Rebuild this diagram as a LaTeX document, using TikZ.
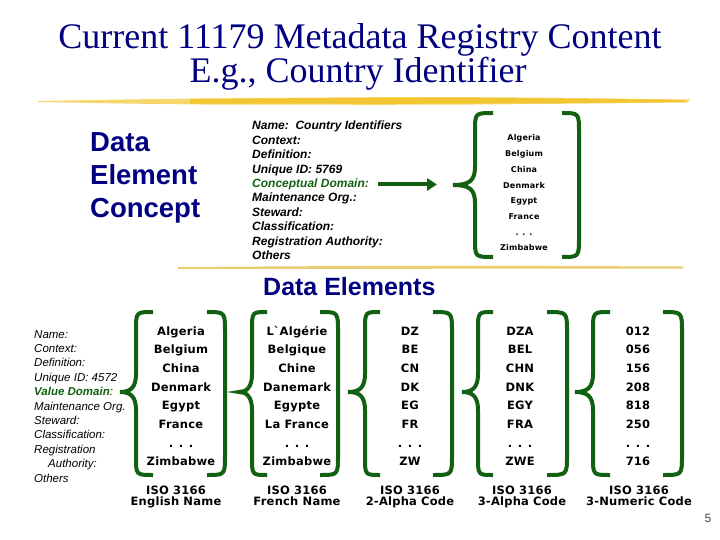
\documentclass[tikz,border=0pt]{standalone}
\usepackage{fontspec}
\setmainfont{Liberation Sans}
\newfontfamily\ttlfont{Liberation Serif}
\newfontfamily\valfont[LetterSpace=2]{DejaVu Sans}
\usetikzlibrary{arrows.meta}
\definecolor{navy}{RGB}{0,0,128}
\definecolor{brgreen}{RGB}{18,96,18}
\definecolor{hilite}{RGB}{242,198,48}
\definecolor{hilitel}{RGB}{232,206,112}
\tikzset{
  ttl/.style={font=\ttlfont\fontsize{36}{36}\selectfont, text=navy, anchor=base, inner sep=0pt},
  big/.style={font=\bfseries\fontsize{27.5}{27.5}\selectfont, text=navy, anchor=base west, inner sep=0pt},
  sub/.style={font=\bfseries\fontsize{25}{25}\selectfont, text=navy, anchor=base west, inner sep=0pt},
  attr/.style={font=\bfseries\itshape\fontsize{12}{12}\selectfont, anchor=base west, inner sep=0pt},
  attrb/.style={font=\itshape\fontsize{11.5}{11.5}\selectfont, anchor=base west, inner sep=0pt},
  valt/.style={font=\valfont\bfseries\fontsize{8}{8}\selectfont, anchor=base, inner sep=0pt},
  val/.style={font=\valfont\bfseries\fontsize{11.5}{11.5}\selectfont, anchor=base, inner sep=0pt},
  isocap/.style={val},
  brc/.style={draw=brgreen, line width=4pt},
  ar/.style={-{Triangle[length=10pt,width=12pt]}, draw=brgreen, line width=4pt},
  pgno/.style={font=\fontsize{12}{12}\selectfont, text=black!75, anchor=base, inner sep=0pt},
}
% left brace: tip x, body x, hook x; top, middle, bottom y
\newcommand{\openbr}[6]{%
  \draw[brc] (#3,#4) .. controls (#2,#4) .. (#2,#4+18) -- (#2,#5-18)
    .. controls (#2,#5-4) and (#2-6,#5) .. (#1,#5)
    .. controls (#2-6,#5) and (#2,#5+4) .. (#2,#5+18) -- (#2,#6-18)
    .. controls (#2,#6) .. (#3,#6);}
% right brace: hook x, body x; top, bottom y
\newcommand{\closebr}[4]{%
  \draw[brc] (#1,#3) .. controls (#2,#3) .. (#2,#3+20) -- (#2,#4-20)
    .. controls (#2,#4) .. (#1,#4);}

\begin{document}
\begin{tikzpicture}[x=1pt,y=-1pt]
\useasboundingbox (0,0) rectangle (720,540);

% ===================== TITLE =====================
\fill[hilite!70] (38,101) .. controls (120,99.5) .. (200,98.5)
  .. controls (450,96.5) .. (690,99.5) -- (688,102.5)
  .. controls (450,105) .. (200,104.5) .. controls (120,103.5) .. (38,102) -- cycle;
\fill[hilite] (190,99) .. controls (450,97) .. (686,100) -- (684,102)
  .. controls (450,104) .. (190,103.5) -- cycle;
\node[ttl] (T1) at (360,49) {Current 11179 Metadata Registry Content};
\node[ttl] (T2) at (358,83) {E.g., Country Identifier};

% ===================== DATA ELEMENT CONCEPT =====================
\node[big] (DEC1) at (90,152) {Data};
\node[big] (DEC2) at (90,185) {Element};
\node[big] (DEC3) at (90,218) {Concept};

\foreach \t [count=\i from 0] in {Name:\ \ Country Identifiers, Context:, Definition:,
    Unique ID:\ 5769, {\color{brgreen}Conceptual Domain:}, Maintenance Org.:,
    Steward:, Classification:, Registration Authority:, Others}
  \node[attr] (da\i) at (252,130+14.4*\i) {\t};

\coordinate (cdend) at (437,185);
\draw[ar] ([xshift=9pt]da4.east) -- (da4.east -| cdend);

\openbr{453}{475}{493}{113}{185}{257}
\closebr{562}{579}{113}{257}
\foreach \v [count=\i from 0] in {Algeria,Belgium,China,Denmark,Egypt,France,. . .,Zimbabwe}
  \node[valt] (cv\i) at (524,141+15.7*\i) {\v};

\fill[hilitel] (178,267) .. controls (430,265.5) .. (683,266.5) -- (683,268.5)
  .. controls (430,269.5) .. (178,269) -- cycle;

% ===================== DATA ELEMENTS =====================
\node[sub] (DE) at (263,295) {Data Elements};

\foreach \t [count=\i from 0] in {Name:, Context:, Definition:, Unique ID: 4572,
    {\bfseries\color{brgreen}Value Domain}:, Maintenance Org., Steward:,
    Classification:, Registration}
  \node[attrb] (vd\i) at (34,338+14.4*\i) {\t};
\node[attrb] (vd9) at (48,338+14.4*9) {Authority:};
\node[attrb] (vd10) at (34,338+14.4*10) {Others};

% braces round the five value lists
\openbr{120}{136}{153}{312}{392}{475}  \closebr{207}{225}{312}{475}
\openbr{239}{252}{267}{312}{392}{475}  \closebr{320}{338}{312}{475}
\openbr{348}{365}{380}{312}{392}{475}  \closebr{433}{452}{312}{475}
\openbr{462}{478}{493}{312}{392}{475}  \closebr{547}{567}{312}{475}
\openbr{575}{593}{610}{312}{392}{475}  \closebr{663}{682}{312}{475}

\foreach \v [count=\i from 0] in {Algeria,Belgium,China,Denmark,Egypt,France,. . .,Zimbabwe}
  \node[val] (en\i) at (181,335+18.7*\i) {\v};
\foreach \v [count=\i from 0] in {L\textasciigrave Algérie,Belgique,Chine,Danemark,Egypte,La France,. . .,Zimbabwe}
  \node[val] (fr\i) at (297,335+18.7*\i) {\v};
\foreach \v [count=\i from 0] in {DZ,BE,CN,DK,EG,FR,. . .,ZW}
  \node[val] (atwo\i) at (410,335+18.7*\i) {\v};
\foreach \v [count=\i from 0] in {DZA,BEL,CHN,DNK,EGY,FRA,. . .,ZWE}
  \node[val] (athree\i) at (520,335+18.7*\i) {\v};
\foreach \v [count=\i from 0] in {012,056,156,208,818,250,. . .,716}
  \node[val] (num\i) at (638,335+18.7*\i) {\v};

\foreach \cx/\nm [count=\c] in {176/English Name,297/French Name,410/2-Alpha Code,
    522/3-Alpha Code,639/3-Numeric Code}{
  \node[isocap] (iso\c) at (\cx,494) {ISO 3166};
  \node[isocap] (nm\c) at (\cx,505) {\nm};
}

\node[pgno] (PG) at (708,522) {5};

\end{tikzpicture}
\end{document}
